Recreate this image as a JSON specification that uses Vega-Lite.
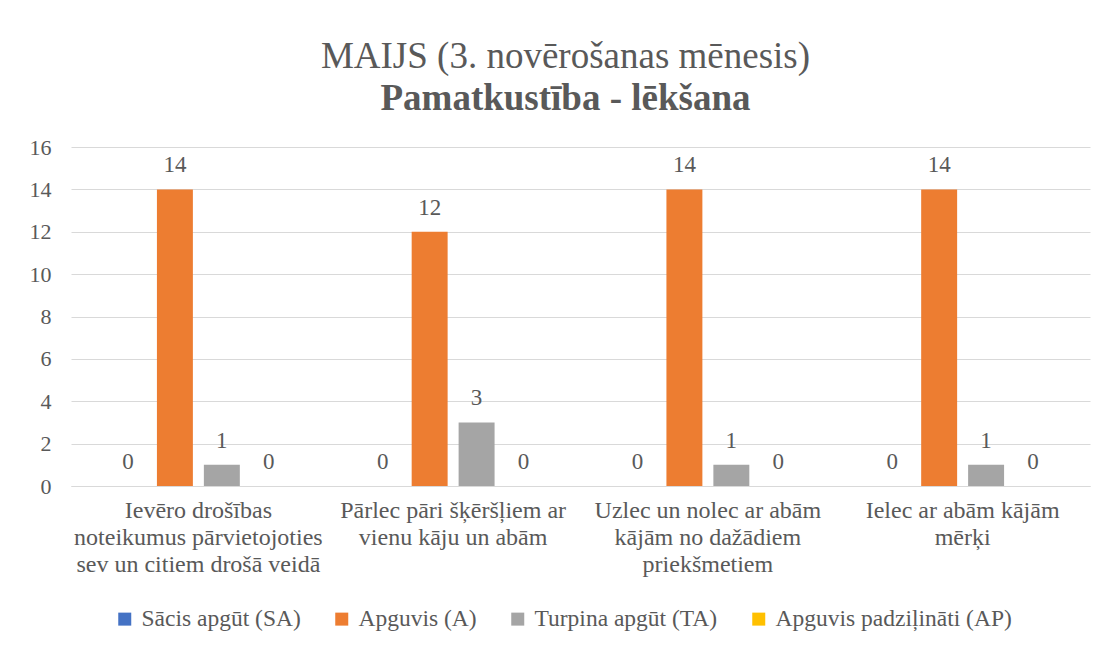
{
  "$schema": "https://vega.github.io/schema/vega-lite/v6.json",
  "width": 1019,
  "height": 339,
  "autosize": {"type": "none"},
  "padding": {"left": 71, "top": 147, "right": 20, "bottom": 161},
  "background": "white",
  "config": {"view": {"stroke": null}},
  "title": {
    "text": "MAIJS (3. novērošanas mēnesis)",
    "subtitle": "Pamatkustība - lēkšana",
    "font": "Liberation Serif",
    "fontSize": 37,
    "fontWeight": "normal",
    "color": "#595959",
    "subtitleFont": "Liberation Serif",
    "subtitleFontSize": 37,
    "subtitleFontWeight": "bold",
    "subtitleColor": "#595959",
    "subtitlePadding": 5,
    "anchor": "middle",
    "dx": -15,
    "offset": 18
  },
  "data": {
    "values": [
      {"cat": "Ievēro drošības\nnoteikumus pārvietojoties\nsev un citiem drošā veidā", "series": "Sācis apgūt (SA)", "value": 0},
      {"cat": "Ievēro drošības\nnoteikumus pārvietojoties\nsev un citiem drošā veidā", "series": "Apguvis (A)", "value": 14},
      {"cat": "Ievēro drošības\nnoteikumus pārvietojoties\nsev un citiem drošā veidā", "series": "Turpina apgūt (TA)", "value": 1},
      {"cat": "Ievēro drošības\nnoteikumus pārvietojoties\nsev un citiem drošā veidā", "series": "Apguvis padziļināti (AP)", "value": 0},
      {"cat": "Pārlec pāri šķēršļiem ar\nvienu kāju un abām", "series": "Sācis apgūt (SA)", "value": 0},
      {"cat": "Pārlec pāri šķēršļiem ar\nvienu kāju un abām", "series": "Apguvis (A)", "value": 12},
      {"cat": "Pārlec pāri šķēršļiem ar\nvienu kāju un abām", "series": "Turpina apgūt (TA)", "value": 3},
      {"cat": "Pārlec pāri šķēršļiem ar\nvienu kāju un abām", "series": "Apguvis padziļināti (AP)", "value": 0},
      {"cat": "Uzlec un nolec ar abām\nkājām no dažādiem\npriekšmetiem", "series": "Sācis apgūt (SA)", "value": 0},
      {"cat": "Uzlec un nolec ar abām\nkājām no dažādiem\npriekšmetiem", "series": "Apguvis (A)", "value": 14},
      {"cat": "Uzlec un nolec ar abām\nkājām no dažādiem\npriekšmetiem", "series": "Turpina apgūt (TA)", "value": 1},
      {"cat": "Uzlec un nolec ar abām\nkājām no dažādiem\npriekšmetiem", "series": "Apguvis padziļināti (AP)", "value": 0},
      {"cat": "Ielec ar abām kājām\nmērķi", "series": "Sācis apgūt (SA)", "value": 0},
      {"cat": "Ielec ar abām kājām\nmērķi", "series": "Apguvis (A)", "value": 14},
      {"cat": "Ielec ar abām kājām\nmērķi", "series": "Turpina apgūt (TA)", "value": 1},
      {"cat": "Ielec ar abām kājām\nmērķi", "series": "Apguvis padziļināti (AP)", "value": 0}
    ]
  },
  "encoding": {
    "x": {
      "field": "cat",
      "type": "nominal",
      "sort": null,
      "scale": {"paddingInner": 0.306, "paddingOuter": 0.153},
      "axis": {
        "title": null,
        "labelAngle": 0,
        "labelExpr": "split(datum.label, '\\n')",
        "labelFont": "Liberation Serif",
        "labelFontSize": 24,
        "labelColor": "#595959",
        "labelLineHeight": 27,
        "labelPadding": 12,
        "labelLimit": 400,
        "labelBaseline": "top",
        "ticks": false,
        "domain": true,
        "domainColor": "#D9D9D9",
        "domainWidth": 1
      }
    },
    "xOffset": {
      "field": "series",
      "type": "nominal",
      "sort": ["Sācis apgūt (SA)", "Apguvis (A)", "Turpina apgūt (TA)", "Apguvis padziļināti (AP)"],
      "scale": {"domain": ["Sācis apgūt (SA)", "Apguvis (A)", "Turpina apgūt (TA)", "Apguvis padziļināti (AP)"], "paddingInner": 0.234, "paddingOuter": 0}
    },
    "y": {
      "field": "value",
      "type": "quantitative",
      "scale": {"domain": [0, 16], "nice": false},
      "axis": {
        "title": null,
        "values": [0, 2, 4, 6, 8, 10, 12, 14, 16],
        "grid": true,
        "gridColor": "#D9D9D9",
        "gridWidth": 1,
        "domain": false,
        "ticks": false,
        "labelFont": "Liberation Serif",
        "labelFontSize": 22,
        "labelColor": "#595959",
        "labelPadding": 20
      }
    }
  },
  "layer": [
    {
      "mark": {"type": "bar"},
      "encoding": {
        "color": {
          "field": "series",
          "type": "nominal",
          "scale": {
            "domain": ["Sācis apgūt (SA)", "Apguvis (A)", "Turpina apgūt (TA)", "Apguvis padziļināti (AP)"],
            "range": ["#4472C4", "#ED7D31", "#A5A5A5", "#FFC000"]
          },
          "legend": {
            "title": null,
            "orient": "none",
            "legendX": 42,
            "legendY": 460,
            "direction": "horizontal",
            "columns": 4,
            "symbolType": "square",
            "symbolSize": 169,
            "symbolStrokeWidth": 0,
            "labelFont": "Liberation Serif",
            "labelFontSize": 23.5,
            "labelColor": "#595959",
            "labelOffset": 5,
            "labelLimit": 400,
            "columnPadding": 29
          }
        }
      }
    },
    {
      "mark": {
        "type": "text",
        "font": "Liberation Serif",
        "fontSize": 23,
        "color": "#595959",
        "baseline": "alphabetic",
        "dy": -17
      },
      "encoding": {
        "text": {"field": "value", "type": "quantitative"}
      }
    }
  ]
}
